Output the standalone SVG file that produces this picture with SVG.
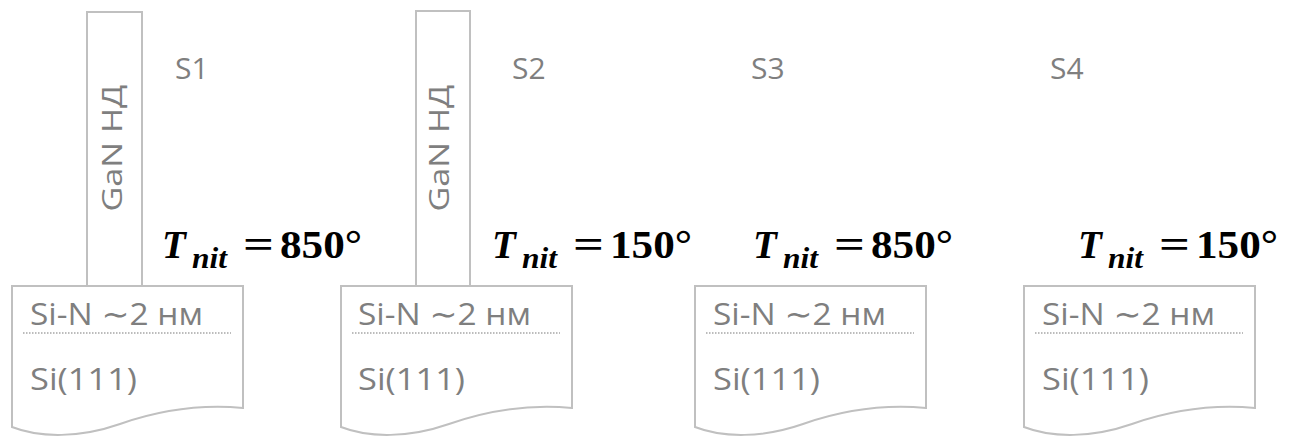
<svg xmlns="http://www.w3.org/2000/svg" width="1295" height="439" viewBox="0 0 1295 439">
<defs>
<style>
.box{fill:#ffffff;stroke:#c0c0c0;stroke-width:2}
.dot{stroke:#a6a6a6;stroke-width:1.5;stroke-dasharray:1.5 1.5;fill:none}
.lbl{font-family:"Open Sans","DejaVu Sans",sans-serif;fill:#7f7f7f;font-size:31px}
.slbl{font-family:"Open Sans","DejaVu Sans",sans-serif;fill:#7f7f7f;font-size:30px}
.wire{font-family:"Open Sans","DejaVu Sans",sans-serif;fill:#7f7f7f;font-size:28px}
.m{font-family:"Liberation Serif","DejaVu Serif",serif;fill:#000;font-weight:bold}
.mi{font-style:italic}
.big{font-size:39px}
.sub{font-size:29px}
</style>
<path id="doc" d="M0,0 H231 V122 C188,118 148,124 108,138 C68,152 28,152 0,141 Z"/>
</defs>
<rect width="1295" height="439" fill="#ffffff"/>

<g id="panel1">
<use href="#doc" class="box" x="12" y="286"/>
<line class="dot" x1="23" y1="333" x2="231" y2="333"/>
<text class="lbl" x="30" y="325" textLength="173" lengthAdjust="spacingAndGlyphs">Si-N ∼2 нм</text>
<text class="lbl" x="30" y="390" textLength="107" lengthAdjust="spacingAndGlyphs">Si(111)</text>
</g>
<g id="wire1">
<rect class="box" x="87" y="12" width="55" height="274"/>
<text class="wire" transform="translate(122,148) rotate(-90)" text-anchor="middle" textLength="127" lengthAdjust="spacingAndGlyphs">GaN НД</text>
</g>

<g id="panel2">
<use href="#doc" class="box" x="341" y="286"/>
<line class="dot" x1="352" y1="333" x2="560" y2="333"/>
<text class="lbl" x="358" y="325" textLength="173" lengthAdjust="spacingAndGlyphs">Si-N ∼2 нм</text>
<text class="lbl" x="358" y="390" textLength="107" lengthAdjust="spacingAndGlyphs">Si(111)</text>
</g>
<g id="wire2">
<rect class="box" x="416" y="11" width="54" height="275"/>
<text class="wire" transform="translate(449,148) rotate(-90)" text-anchor="middle" textLength="127" lengthAdjust="spacingAndGlyphs">GaN НД</text>
</g>

<g id="panel3">
<use href="#doc" class="box" x="695" y="286"/>
<line class="dot" x1="706" y1="333" x2="914" y2="333"/>
<text class="lbl" x="713" y="325" textLength="173" lengthAdjust="spacingAndGlyphs">Si-N ∼2 нм</text>
<text class="lbl" x="713" y="390" textLength="107" lengthAdjust="spacingAndGlyphs">Si(111)</text>
</g>

<g id="panel4">
<use href="#doc" class="box" x="1024" y="286"/>
<line class="dot" x1="1035" y1="333" x2="1243" y2="333"/>
<text class="lbl" x="1042" y="325" textLength="173" lengthAdjust="spacingAndGlyphs">Si-N ∼2 нм</text>
<text class="lbl" x="1042" y="390" textLength="107" lengthAdjust="spacingAndGlyphs">Si(111)</text>
</g>

<g id="labels">
<text class="slbl" x="175" y="79">S1</text>
<text class="slbl" x="512" y="79">S2</text>
<text class="slbl" x="751" y="79">S3</text>
<text class="slbl" x="1050" y="79">S4</text>
</g>

<g id="temp1" transform="translate(162,0)">
<text class="m mi big" x="0" y="258">T</text>
<text class="m mi sub" x="30" y="268" textLength="35" lengthAdjust="spacingAndGlyphs">nit</text>
<text class="m big" x="81" y="258" textLength="31" lengthAdjust="spacingAndGlyphs">=</text>
<text class="m big" x="118" y="258" textLength="82" lengthAdjust="spacingAndGlyphs">850°</text>
</g>
<g id="temp2" transform="translate(492,0)">
<text class="m mi big" x="0" y="258">T</text>
<text class="m mi sub" x="30" y="268" textLength="35" lengthAdjust="spacingAndGlyphs">nit</text>
<text class="m big" x="81" y="258" textLength="31" lengthAdjust="spacingAndGlyphs">=</text>
<text class="m big" x="118" y="258" textLength="82" lengthAdjust="spacingAndGlyphs">150°</text>
</g>
<g id="temp3" transform="translate(753,0)">
<text class="m mi big" x="0" y="258">T</text>
<text class="m mi sub" x="30" y="268" textLength="35" lengthAdjust="spacingAndGlyphs">nit</text>
<text class="m big" x="81" y="258" textLength="31" lengthAdjust="spacingAndGlyphs">=</text>
<text class="m big" x="118" y="258" textLength="82" lengthAdjust="spacingAndGlyphs">850°</text>
</g>
<g id="temp4" transform="translate(1078,0)">
<text class="m mi big" x="0" y="258">T</text>
<text class="m mi sub" x="30" y="268" textLength="35" lengthAdjust="spacingAndGlyphs">nit</text>
<text class="m big" x="81" y="258" textLength="31" lengthAdjust="spacingAndGlyphs">=</text>
<text class="m big" x="118" y="258" textLength="82" lengthAdjust="spacingAndGlyphs">150°</text>
</g>
</svg>
